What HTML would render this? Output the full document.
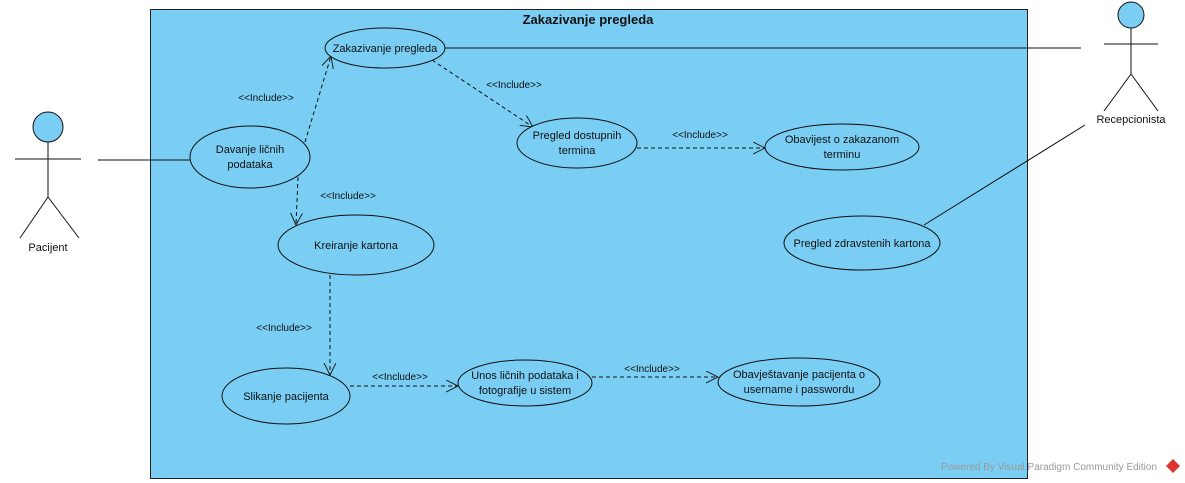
<!DOCTYPE html>
<html><head><meta charset="utf-8"><style>
html,body{margin:0;padding:0;background:#fff;}
svg{display:block;font-family:"Liberation Sans",sans-serif;}
</style></head><body>
<svg width="1185" height="483" viewBox="0 0 1185 483">
<defs>
<marker id="a" markerWidth="14" markerHeight="14" refX="12" refY="6" orient="auto" markerUnits="userSpaceOnUse">
<path d="M0,0 L12,6 L0,12" fill="none" stroke="#222" stroke-width="1"/>
</marker>
</defs>
<rect x="150.5" y="9.5" width="877" height="469" fill="#7acef4" stroke="#222" stroke-width="1"/>
<text x="588" y="24" font-size="13" font-weight="bold" text-anchor="middle" fill="#111">Zakazivanje pregleda</text>

<g stroke="#111" stroke-width="1" fill="none">
<line x1="98" y1="160" x2="190" y2="160"/>
<line x1="445" y1="48" x2="1081" y2="48"/>
<line x1="1085" y1="125" x2="924" y2="225"/>
</g>
<g stroke="#111" stroke-width="1" fill="none" stroke-dasharray="4,3" marker-end="url(#a)">
<line x1="305" y1="142" x2="331" y2="56"/>
<line x1="432" y1="60" x2="533" y2="127"/>
<line x1="637" y1="148" x2="765" y2="148"/>
<line x1="298" y1="177" x2="296" y2="225"/>
<line x1="330" y1="275" x2="330" y2="375"/>
<line x1="350" y1="386" x2="458" y2="386"/>
<line x1="592" y1="377" x2="718" y2="377"/>
</g>

<g fill="#7acef4" stroke="#111" stroke-width="1">
<ellipse cx="385" cy="48" rx="60" ry="20"/>
<ellipse cx="250" cy="157" rx="60" ry="31"/>
<ellipse cx="356" cy="245" rx="78" ry="30"/>
<ellipse cx="577" cy="143" rx="60" ry="25"/>
<ellipse cx="842" cy="147" rx="77" ry="23"/>
<ellipse cx="862" cy="243" rx="78" ry="27"/>
<ellipse cx="286" cy="396" rx="64" ry="28"/>
<ellipse cx="525" cy="383" rx="67" ry="23"/>
<ellipse cx="799" cy="382" rx="81" ry="24"/>
</g>

<g font-size="11" fill="#111" text-anchor="middle">
<text x="385" y="52">Zakazivanje pregleda</text>
<text x="250" y="153">Davanje ličnih</text><text x="250" y="168">podataka</text>
<text x="356" y="249">Kreiranje kartona</text>
<text x="577" y="139">Pregled dostupnih</text><text x="577" y="154">termina</text>
<text x="842" y="143">Obavijest o zakazanom</text><text x="842" y="158">terminu</text>
<text x="862" y="247">Pregled zdravstenih kartona</text>
<text x="286" y="400">Slikanje pacijenta</text>
<text x="525" y="379">Unos ličnih podataka i</text><text x="525" y="394">fotografije u sistem</text>
<text x="799" y="378">Obavještavanje pacijenta o</text><text x="799" y="393">username i passwordu</text>
</g>
<g font-size="10" fill="#111" text-anchor="middle">
<text x="266" y="101">&lt;&lt;Include&gt;&gt;</text>
<text x="514" y="88">&lt;&lt;Include&gt;&gt;</text>
<text x="348" y="199">&lt;&lt;Include&gt;&gt;</text>
<text x="700" y="138">&lt;&lt;Include&gt;&gt;</text>
<text x="284" y="331">&lt;&lt;Include&gt;&gt;</text>
<text x="400" y="380">&lt;&lt;Include&gt;&gt;</text>
<text x="652" y="372">&lt;&lt;Include&gt;&gt;</text>
</g>

<g stroke="#111" stroke-width="1" fill="none">
<circle cx="48" cy="127" r="15" fill="#7acef4"/>
<line x1="48" y1="142" x2="48" y2="197"/>
<line x1="15" y1="159" x2="81" y2="159"/>
<line x1="48" y1="197" x2="20" y2="238"/>
<line x1="48" y1="197" x2="79" y2="238"/>
<circle cx="1131" cy="15" r="13" fill="#7acef4"/>
<line x1="1131" y1="28" x2="1131" y2="74"/>
<line x1="1104" y1="44" x2="1158" y2="44"/>
<line x1="1131" y1="74" x2="1104" y2="111"/>
<line x1="1131" y1="74" x2="1158" y2="111"/>
</g>
<text x="48" y="251" font-size="11" text-anchor="middle" fill="#111">Pacijent</text>
<text x="1131" y="123" font-size="11" text-anchor="middle" fill="#111">Recepcionista</text>

<text x="941" y="470" font-size="10" fill="#999">Powered By  Visual Paradigm Community Edition</text>
<path d="M1173,459 L1180,466 L1173,473 L1166,466 Z" fill="#d33"/>
</svg>
</body></html>
